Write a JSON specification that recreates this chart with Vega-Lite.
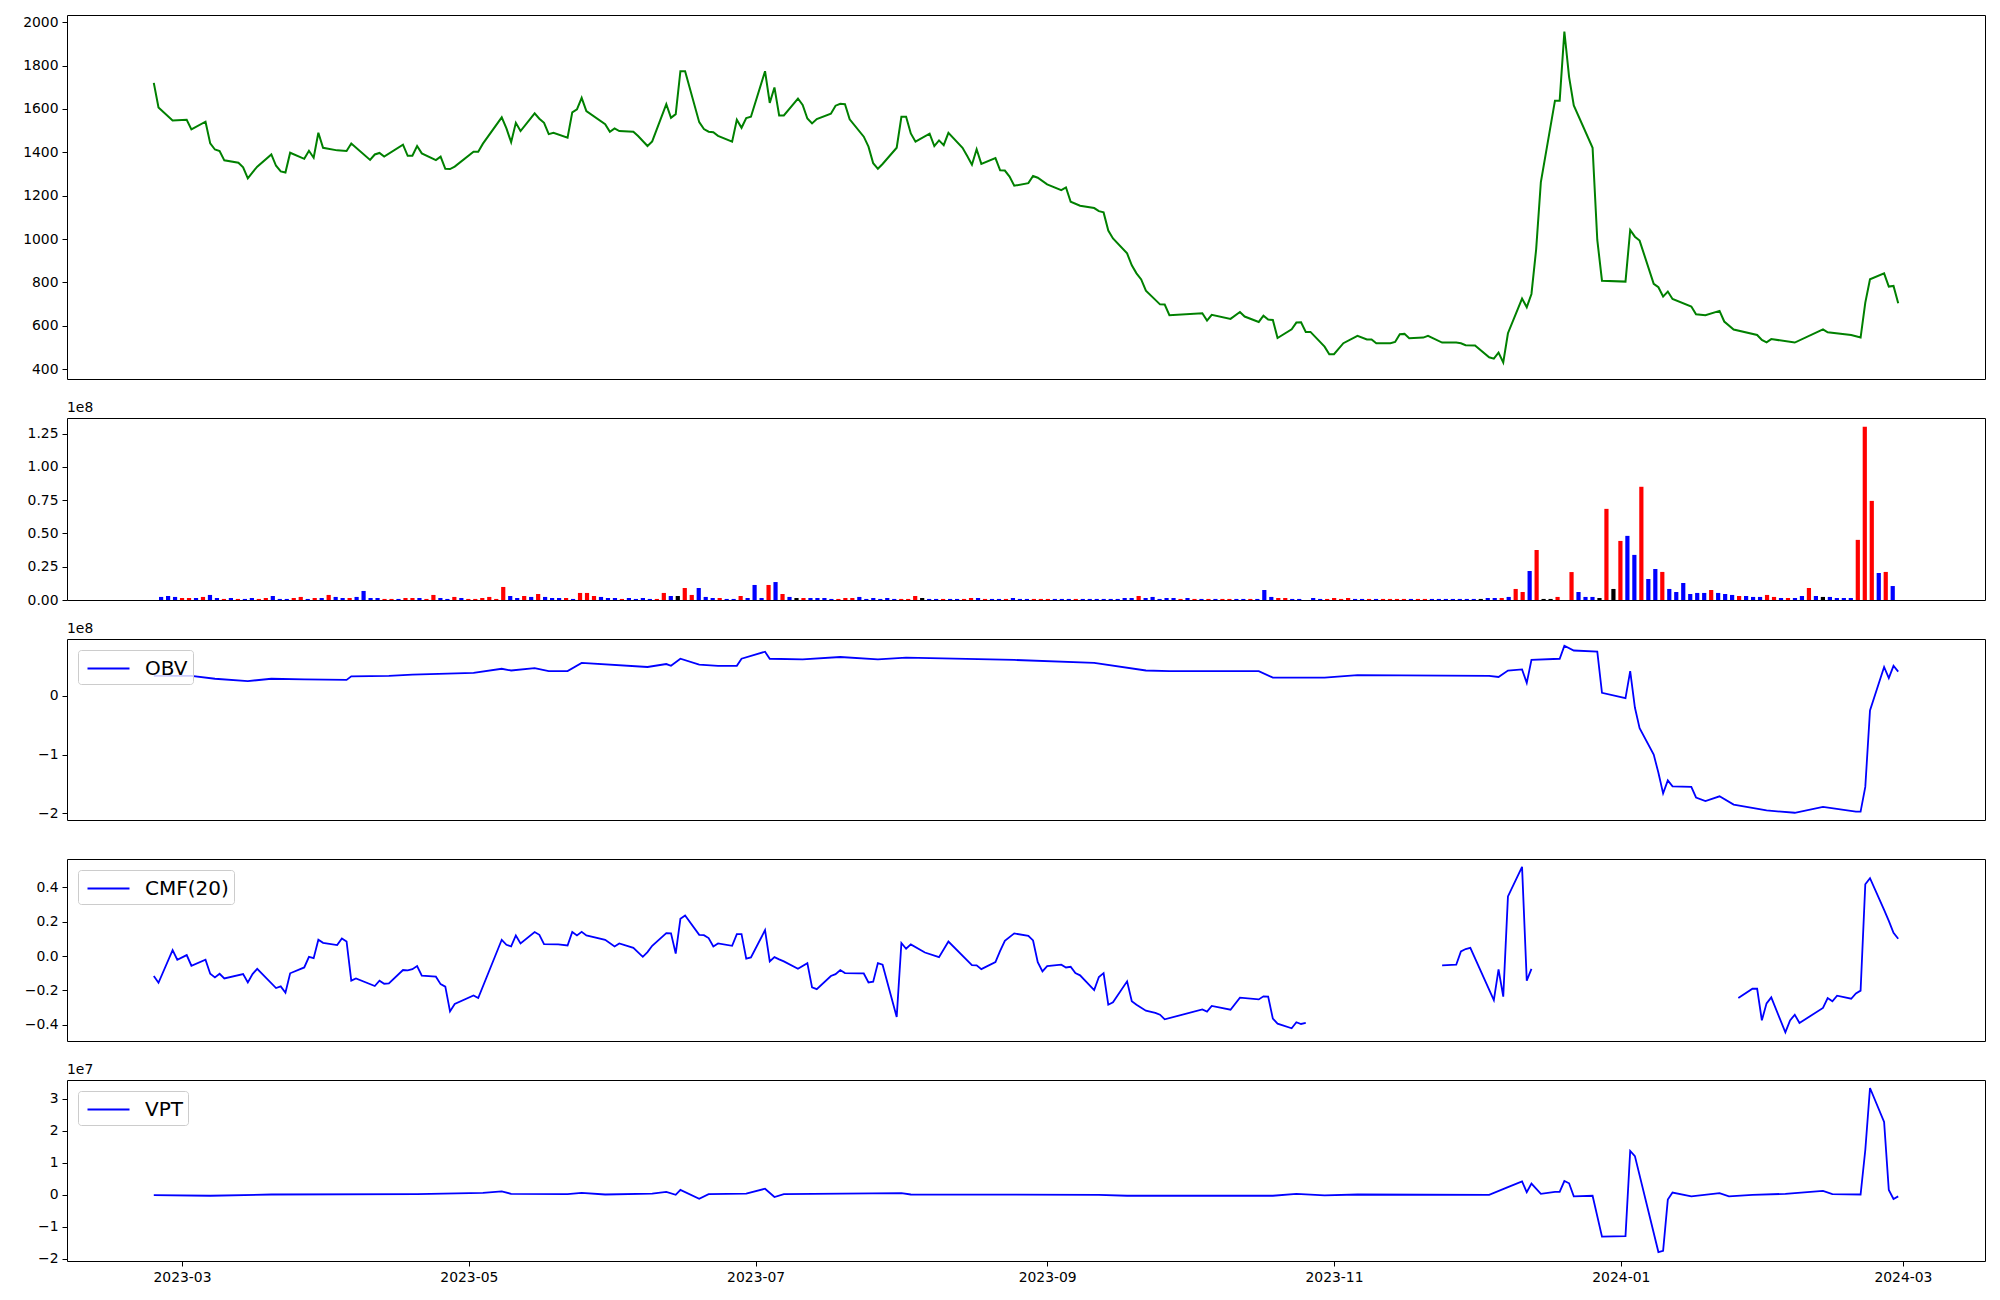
{
"$schema": "https://vega.github.io/schema/vega-lite/v6.json",
"autosize": {"type": "pad"},
"padding": {"left": 22, "top": 14, "right": 10, "bottom": 10},
"background": "white",
"bounds": "flush",
"spacing": 39,
"config": {
  "font": "DejaVu Sans",
  "view": {"stroke": "black", "strokeWidth": 1},
  "axis": {"domain": false, "grid": false, "tickColor": "black", "tickSize": 5, "tickWidth": 1, "labelColor": "black", "labelFont": "DejaVu Sans", "labelFontSize": 13.9, "labelPadding": 4, "title": null},
  "title": {"font": "DejaVu Sans", "fontSize": 13.9, "fontWeight": "normal", "color": "black", "anchor": "start", "frame": "group", "offset": 3}
},
"resolve": {"scale": {"x": "independent", "y": "independent", "color": "independent"}, "legend": {"color": "independent"}},
"datasets": {
"price": [
{"date":"2023-02-23","close":1720},{"date":"2023-02-24","close":1607},{"date":"2023-02-27","close":1547},{"date":"2023-03-02","close":1550},{"date":"2023-03-03","close":1506},{"date":"2023-03-06","close":1541},{"date":"2023-03-07","close":1441},{"date":"2023-03-08","close":1413},{"date":"2023-03-09","close":1406},{"date":"2023-03-10","close":1363},{"date":"2023-03-13","close":1352},{"date":"2023-03-14","close":1331},{"date":"2023-03-15","close":1280},{"date":"2023-03-16","close":1308},{"date":"2023-03-17","close":1334},{"date":"2023-03-20","close":1390},{"date":"2023-03-21","close":1338},{"date":"2023-03-22","close":1312},{"date":"2023-03-23","close":1307},{"date":"2023-03-24","close":1398},{"date":"2023-03-27","close":1370},{"date":"2023-03-28","close":1407},{"date":"2023-03-29","close":1375},{"date":"2023-03-30","close":1490},{"date":"2023-03-31","close":1421},{"date":"2023-04-03","close":1409},{"date":"2023-04-05","close":1406},{"date":"2023-04-06","close":1441},{"date":"2023-04-10","close":1365},{"date":"2023-04-11","close":1390},{"date":"2023-04-12","close":1397},{"date":"2023-04-13","close":1380},{"date":"2023-04-17","close":1435},{"date":"2023-04-18","close":1384},{"date":"2023-04-19","close":1384},{"date":"2023-04-20","close":1429},{"date":"2023-04-21","close":1395},{"date":"2023-04-24","close":1364},{"date":"2023-04-25","close":1380},{"date":"2023-04-26","close":1324},{"date":"2023-04-27","close":1323},{"date":"2023-04-28","close":1334},{"date":"2023-05-02","close":1403},{"date":"2023-05-03","close":1403},{"date":"2023-05-04","close":1440},{"date":"2023-05-08","close":1561},{"date":"2023-05-09","close":1510},{"date":"2023-05-10","close":1447},{"date":"2023-05-11","close":1536},{"date":"2023-05-12","close":1498},{"date":"2023-05-15","close":1580},{"date":"2023-05-16","close":1555},{"date":"2023-05-17","close":1536},{"date":"2023-05-18","close":1484},{"date":"2023-05-19","close":1490},{"date":"2023-05-22","close":1467},{"date":"2023-05-23","close":1584},{"date":"2023-05-24","close":1598},{"date":"2023-05-25","close":1651},{"date":"2023-05-26","close":1590},{"date":"2023-05-30","close":1530},{"date":"2023-05-31","close":1495},{"date":"2023-06-01","close":1510},{"date":"2023-06-02","close":1498},{"date":"2023-06-05","close":1495},{"date":"2023-06-06","close":1475},{"date":"2023-06-07","close":1452},{"date":"2023-06-08","close":1429},{"date":"2023-06-09","close":1450},{"date":"2023-06-12","close":1622},{"date":"2023-06-13","close":1559},{"date":"2023-06-14","close":1576},{"date":"2023-06-15","close":1774},{"date":"2023-06-16","close":1774},{"date":"2023-06-19","close":1539},{"date":"2023-06-20","close":1507},{"date":"2023-06-21","close":1495},{"date":"2023-06-22","close":1493},{"date":"2023-06-23","close":1476},{"date":"2023-06-26","close":1449},{"date":"2023-06-27","close":1550},{"date":"2023-06-28","close":1513},{"date":"2023-06-29","close":1558},{"date":"2023-06-30","close":1564},{"date":"2023-07-03","close":1774},{"date":"2023-07-04","close":1628},{"date":"2023-07-05","close":1699},{"date":"2023-07-06","close":1570},{"date":"2023-07-07","close":1570},{"date":"2023-07-10","close":1648},{"date":"2023-07-11","close":1618},{"date":"2023-07-12","close":1556},{"date":"2023-07-13","close":1533},{"date":"2023-07-14","close":1553},{"date":"2023-07-17","close":1578},{"date":"2023-07-18","close":1615},{"date":"2023-07-19","close":1624},{"date":"2023-07-20","close":1622},{"date":"2023-07-21","close":1552},{"date":"2023-07-24","close":1472},{"date":"2023-07-25","close":1426},{"date":"2023-07-26","close":1350},{"date":"2023-07-27","close":1324},{"date":"2023-07-28","close":1346},{"date":"2023-07-31","close":1421},{"date":"2023-08-01","close":1564},{"date":"2023-08-02","close":1564},{"date":"2023-08-03","close":1487},{"date":"2023-08-04","close":1449},{"date":"2023-08-07","close":1486},{"date":"2023-08-08","close":1429},{"date":"2023-08-09","close":1455},{"date":"2023-08-10","close":1433},{"date":"2023-08-11","close":1490},{"date":"2023-08-14","close":1421},{"date":"2023-08-15","close":1383},{"date":"2023-08-16","close":1343},{"date":"2023-08-17","close":1414},{"date":"2023-08-18","close":1347},{"date":"2023-08-21","close":1373},{"date":"2023-08-22","close":1317},{"date":"2023-08-23","close":1316},{"date":"2023-08-24","close":1288},{"date":"2023-08-25","close":1246},{"date":"2023-08-28","close":1258},{"date":"2023-08-29","close":1291},{"date":"2023-08-30","close":1283},{"date":"2023-09-01","close":1252},{"date":"2023-09-04","close":1226},{"date":"2023-09-05","close":1238},{"date":"2023-09-06","close":1172},{"date":"2023-09-08","close":1154},{"date":"2023-09-11","close":1143},{"date":"2023-09-12","close":1129},{"date":"2023-09-13","close":1123},{"date":"2023-09-14","close":1039},{"date":"2023-09-15","close":1003},{"date":"2023-09-18","close":934},{"date":"2023-09-19","close":879},{"date":"2023-09-20","close":842},{"date":"2023-09-21","close":814},{"date":"2023-09-22","close":762},{"date":"2023-09-25","close":699},{"date":"2023-09-26","close":698},{"date":"2023-09-27","close":649},{"date":"2023-10-04","close":658},{"date":"2023-10-05","close":624},{"date":"2023-10-06","close":651},{"date":"2023-10-10","close":632},{"date":"2023-10-12","close":664},{"date":"2023-10-13","close":643},{"date":"2023-10-16","close":618},{"date":"2023-10-17","close":647},{"date":"2023-10-18","close":629},{"date":"2023-10-19","close":627},{"date":"2023-10-20","close":544},{"date":"2023-10-23","close":584},{"date":"2023-10-24","close":615},{"date":"2023-10-25","close":616},{"date":"2023-10-26","close":572},{"date":"2023-10-27","close":572},{"date":"2023-10-30","close":504},{"date":"2023-10-31","close":469},{"date":"2023-11-01","close":469},{"date":"2023-11-03","close":520},{"date":"2023-11-06","close":554},{"date":"2023-11-08","close":537},{"date":"2023-11-09","close":537},{"date":"2023-11-10","close":520},{"date":"2023-11-13","close":520},{"date":"2023-11-14","close":526},{"date":"2023-11-15","close":561},{"date":"2023-11-16","close":563},{"date":"2023-11-17","close":543},{"date":"2023-11-20","close":546},{"date":"2023-11-21","close":554},{"date":"2023-11-24","close":523},{"date":"2023-11-27","close":523},{"date":"2023-11-28","close":520},{"date":"2023-11-29","close":511},{"date":"2023-12-01","close":509},{"date":"2023-12-04","close":455},{"date":"2023-12-05","close":449},{"date":"2023-12-06","close":477},{"date":"2023-12-07","close":431},{"date":"2023-12-08","close":566},{"date":"2023-12-11","close":726},{"date":"2023-12-12","close":686},{"date":"2023-12-13","close":747},{"date":"2023-12-14","close":953},{"date":"2023-12-15","close":1263},{"date":"2023-12-18","close":1638},{"date":"2023-12-19","close":1638},{"date":"2023-12-20","close":1957},{"date":"2023-12-21","close":1748},{"date":"2023-12-22","close":1616},{"date":"2023-12-26","close":1421},{"date":"2023-12-27","close":996},{"date":"2023-12-28","close":808},{"date":"2024-01-02","close":804},{"date":"2024-01-03","close":1042},{"date":"2024-01-04","close":1011},{"date":"2024-01-05","close":993},{"date":"2024-01-08","close":794},{"date":"2024-01-09","close":778},{"date":"2024-01-10","close":735},{"date":"2024-01-11","close":758},{"date":"2024-01-12","close":724},{"date":"2024-01-16","close":689},{"date":"2024-01-17","close":653},{"date":"2024-01-19","close":649},{"date":"2024-01-22","close":669},{"date":"2024-01-23","close":620},{"date":"2024-01-25","close":583},{"date":"2024-01-30","close":558},{"date":"2024-01-31","close":535},{"date":"2024-02-01","close":524},{"date":"2024-02-02","close":539},{"date":"2024-02-07","close":523},{"date":"2024-02-13","close":584},{"date":"2024-02-14","close":570},{"date":"2024-02-19","close":558},{"date":"2024-02-21","close":546},{"date":"2024-02-22","close":707},{"date":"2024-02-23","close":815},{"date":"2024-02-26","close":842},{"date":"2024-02-27","close":781},{"date":"2024-02-28","close":784},{"date":"2024-02-29","close":704}
],
"volume": [
{"i":0,"v":2.3e6,"c":"down"},{"i":1,"v":3.0e6,"c":"down"},{"i":2,"v":2.3e6,"c":"down"},{"i":3,"v":1.5e6,"c":"up"},{"i":4,"v":1.5e6,"c":"up"},{"i":5,"v":1.5e6,"c":"down"},{"i":6,"v":2.3e6,"c":"up"},{"i":7,"v":3.8e6,"c":"down"},{"i":8,"v":1.5e6,"c":"down"},{"i":9,"v":0.8e6,"c":"up"},
{"i":10,"v":1.5e6,"c":"down"},{"i":11,"v":0.8e6,"c":"up"},{"i":12,"v":0.8e6,"c":"down"},{"i":13,"v":1.5e6,"c":"down"},{"i":14,"v":0.8e6,"c":"up"},{"i":15,"v":1.5e6,"c":"up"},{"i":16,"v":3.0e6,"c":"down"},{"i":17,"v":0.8e6,"c":"down"},{"i":18,"v":0.8e6,"c":"down"},{"i":19,"v":1.5e6,"c":"up"},
{"i":20,"v":2.3e6,"c":"up"},{"i":21,"v":0.8e6,"c":"down"},{"i":22,"v":1.5e6,"c":"up"},{"i":23,"v":1.5e6,"c":"down"},{"i":24,"v":3.8e6,"c":"up"},{"i":25,"v":2.3e6,"c":"down"},{"i":26,"v":1.5e6,"c":"down"},{"i":27,"v":1.5e6,"c":"up"},{"i":28,"v":2.3e6,"c":"down"},{"i":29,"v":6.8e6,"c":"down"},
{"i":30,"v":1.5e6,"c":"down"},{"i":31,"v":1.5e6,"c":"down"},{"i":32,"v":0.8e6,"c":"up"},{"i":33,"v":0.8e6,"c":"up"},{"i":34,"v":0.8e6,"c":"down"},{"i":35,"v":1.5e6,"c":"up"},{"i":36,"v":1.5e6,"c":"up"},{"i":37,"v":1.5e6,"c":"down"},{"i":38,"v":0.8e6,"c":"up"},{"i":39,"v":3.8e6,"c":"up"},
{"i":40,"v":1.5e6,"c":"down"},{"i":41,"v":0.8e6,"c":"down"},{"i":42,"v":2.3e6,"c":"up"},{"i":43,"v":1.5e6,"c":"down"},{"i":44,"v":0.8e6,"c":"up"},{"i":45,"v":0.8e6,"c":"up"},{"i":46,"v":1.5e6,"c":"up"},{"i":47,"v":2.3e6,"c":"up"},{"i":48,"v":0.8e6,"c":"up"},{"i":49,"v":9.8e6,"c":"up"},
{"i":50,"v":3.0e6,"c":"down"},{"i":51,"v":1.5e6,"c":"down"},{"i":52,"v":3.0e6,"c":"up"},{"i":53,"v":2.3e6,"c":"down"},{"i":54,"v":4.5e6,"c":"up"},{"i":55,"v":2.3e6,"c":"down"},{"i":56,"v":1.5e6,"c":"down"},{"i":57,"v":1.5e6,"c":"down"},{"i":58,"v":1.5e6,"c":"up"},{"i":59,"v":0.8e6,"c":"down"},
{"i":60,"v":5.3e6,"c":"up"},{"i":61,"v":5.3e6,"c":"up"},{"i":62,"v":3.0e6,"c":"up"},{"i":63,"v":2.3e6,"c":"down"},{"i":64,"v":1.5e6,"c":"down"},{"i":65,"v":1.5e6,"c":"down"},{"i":66,"v":0.8e6,"c":"up"},{"i":67,"v":1.5e6,"c":"down"},{"i":68,"v":0.8e6,"c":"down"},{"i":69,"v":1.5e6,"c":"down"},
{"i":70,"v":0.8e6,"c":"down"},{"i":71,"v":0.8e6,"c":"up"},{"i":72,"v":5.3e6,"c":"up"},{"i":73,"v":3.0e6,"c":"down"},{"i":74,"v":3.0e6,"c":"flat"},{"i":75,"v":9.0e6,"c":"up"},{"i":76,"v":3.8e6,"c":"up"},{"i":77,"v":9.0e6,"c":"down"},{"i":78,"v":2.3e6,"c":"down"},{"i":79,"v":1.5e6,"c":"down"},
{"i":80,"v":1.5e6,"c":"up"},{"i":81,"v":0.8e6,"c":"down"},{"i":82,"v":0.8e6,"c":"down"},{"i":83,"v":3.0e6,"c":"up"},{"i":84,"v":1.5e6,"c":"down"},{"i":85,"v":11.3e6,"c":"down"},{"i":86,"v":1.5e6,"c":"down"},{"i":87,"v":11.3e6,"c":"up"},{"i":88,"v":13.5e6,"c":"down"},{"i":89,"v":4.5e6,"c":"up"},
{"i":90,"v":2.3e6,"c":"down"},{"i":91,"v":1.5e6,"c":"flat"},{"i":92,"v":1.5e6,"c":"up"},{"i":93,"v":1.5e6,"c":"down"},{"i":94,"v":1.5e6,"c":"down"},{"i":95,"v":1.5e6,"c":"down"},{"i":96,"v":0.8e6,"c":"down"},{"i":97,"v":0.8e6,"c":"up"},{"i":98,"v":1.5e6,"c":"up"},{"i":99,"v":1.5e6,"c":"up"},
{"i":100,"v":2.3e6,"c":"down"},{"i":101,"v":0.8e6,"c":"down"},{"i":102,"v":1.5e6,"c":"down"},{"i":103,"v":0.8e6,"c":"down"},{"i":104,"v":1.5e6,"c":"down"},{"i":105,"v":0.8e6,"c":"down"},{"i":106,"v":0.8e6,"c":"up"},{"i":107,"v":0.8e6,"c":"up"},{"i":108,"v":3.0e6,"c":"up"},{"i":109,"v":1.5e6,"c":"flat"},
{"i":110,"v":0.8e6,"c":"down"},{"i":111,"v":0.8e6,"c":"down"},{"i":112,"v":0.8e6,"c":"up"},{"i":113,"v":0.8e6,"c":"down"},{"i":114,"v":0.8e6,"c":"down"},{"i":115,"v":0.8e6,"c":"up"},{"i":116,"v":1.5e6,"c":"up"},{"i":117,"v":1.5e6,"c":"down"},{"i":118,"v":0.8e6,"c":"up"},{"i":119,"v":0.8e6,"c":"down"},
{"i":120,"v":0.8e6,"c":"down"},{"i":121,"v":0.8e6,"c":"up"},{"i":122,"v":1.5e6,"c":"down"},{"i":123,"v":0.8e6,"c":"down"},{"i":124,"v":0.8e6,"c":"down"},{"i":125,"v":0.8e6,"c":"up"},{"i":126,"v":0.8e6,"c":"up"},{"i":127,"v":0.8e6,"c":"up"},{"i":128,"v":0.8e6,"c":"down"},{"i":129,"v":0.8e6,"c":"down"},
{"i":130,"v":0.8e6,"c":"down"},{"i":131,"v":0.8e6,"c":"up"},{"i":132,"v":0.8e6,"c":"down"},{"i":133,"v":0.8e6,"c":"down"},{"i":134,"v":0.8e6,"c":"down"},{"i":135,"v":0.8e6,"c":"down"},{"i":136,"v":0.8e6,"c":"down"},{"i":137,"v":0.8e6,"c":"down"},{"i":138,"v":1.5e6,"c":"down"},{"i":139,"v":1.5e6,"c":"down"},
{"i":140,"v":3.0e6,"c":"up"},{"i":141,"v":1.5e6,"c":"down"},{"i":142,"v":2.3e6,"c":"down"},{"i":143,"v":0.8e6,"c":"down"},{"i":144,"v":1.5e6,"c":"down"},{"i":145,"v":1.5e6,"c":"down"},{"i":146,"v":0.8e6,"c":"up"},{"i":147,"v":1.5e6,"c":"down"},{"i":148,"v":0.8e6,"c":"up"},{"i":149,"v":0.8e6,"c":"down"},
{"i":150,"v":0.8e6,"c":"up"},{"i":151,"v":0.8e6,"c":"down"},{"i":152,"v":0.8e6,"c":"up"},{"i":153,"v":0.8e6,"c":"up"},{"i":154,"v":0.8e6,"c":"down"},{"i":155,"v":0.8e6,"c":"down"},{"i":156,"v":0.8e6,"c":"up"},{"i":157,"v":0.8e6,"c":"down"},{"i":158,"v":7.5e6,"c":"down"},{"i":159,"v":2.3e6,"c":"down"},
{"i":160,"v":1.5e6,"c":"up"},{"i":161,"v":1.5e6,"c":"up"},{"i":162,"v":0.8e6,"c":"down"},{"i":163,"v":0.8e6,"c":"down"},{"i":164,"v":0,"c":"flat"},{"i":165,"v":1.5e6,"c":"down"},{"i":166,"v":0.8e6,"c":"down"},{"i":167,"v":0.8e6,"c":"up"},{"i":168,"v":1.5e6,"c":"up"},{"i":169,"v":0.8e6,"c":"up"},
{"i":170,"v":1.5e6,"c":"up"},{"i":171,"v":0.8e6,"c":"down"},{"i":172,"v":0.8e6,"c":"down"},{"i":173,"v":0.8e6,"c":"up"},{"i":174,"v":0.8e6,"c":"down"},{"i":175,"v":0.8e6,"c":"up"},{"i":176,"v":0.8e6,"c":"up"},{"i":177,"v":0.8e6,"c":"up"},{"i":178,"v":0.8e6,"c":"up"},{"i":179,"v":0.8e6,"c":"down"},
{"i":180,"v":0.8e6,"c":"up"},{"i":181,"v":0.8e6,"c":"up"},{"i":182,"v":0.8e6,"c":"down"},{"i":183,"v":0.8e6,"c":"down"},{"i":184,"v":0.8e6,"c":"down"},{"i":185,"v":0.8e6,"c":"down"},{"i":186,"v":0.8e6,"c":"down"},{"i":187,"v":0.8e6,"c":"down"},{"i":188,"v":0.8e6,"c":"down"},{"i":189,"v":0.8e6,"c":"flat"},
{"i":190,"v":1.5e6,"c":"down"},{"i":191,"v":1.5e6,"c":"down"},{"i":192,"v":1.5e6,"c":"up"},{"i":193,"v":2.3e6,"c":"down"},{"i":194,"v":8.3e6,"c":"up"},{"i":195,"v":6.0e6,"c":"up"},{"i":196,"v":21.8e6,"c":"down"},{"i":197,"v":37.6e6,"c":"up"},{"i":198,"v":0.8e6,"c":"flat"},{"i":199,"v":0.8e6,"c":"flat"},
{"i":200,"v":2.3e6,"c":"up"},{"i":201,"v":0,"c":"flat"},{"i":202,"v":21.0e6,"c":"up"},{"i":203,"v":6.0e6,"c":"down"},{"i":204,"v":2.3e6,"c":"down"},{"i":205,"v":2.3e6,"c":"down"},{"i":206,"v":1.5e6,"c":"flat"},{"i":207,"v":68.5e6,"c":"up"},{"i":208,"v":8.3e6,"c":"flat"},{"i":209,"v":44.4e6,"c":"up"},
{"i":210,"v":48.2e6,"c":"down"},{"i":211,"v":33.9e6,"c":"down"},{"i":212,"v":85.1e6,"c":"up"},{"i":213,"v":15.8e6,"c":"down"},{"i":214,"v":23.3e6,"c":"down"},{"i":215,"v":21.1e6,"c":"up"},{"i":216,"v":8.3e6,"c":"down"},{"i":217,"v":6.0e6,"c":"down"},{"i":218,"v":12.8e6,"c":"down"},{"i":219,"v":4.5e6,"c":"down"},
{"i":220,"v":5.3e6,"c":"down"},{"i":221,"v":5.3e6,"c":"down"},{"i":222,"v":7.5e6,"c":"up"},{"i":223,"v":5.3e6,"c":"down"},{"i":224,"v":4.5e6,"c":"down"},{"i":225,"v":3.8e6,"c":"down"},{"i":226,"v":3.0e6,"c":"up"},{"i":227,"v":3.0e6,"c":"down"},{"i":228,"v":2.3e6,"c":"down"},{"i":229,"v":2.3e6,"c":"down"},
{"i":230,"v":3.8e6,"c":"up"},{"i":231,"v":2.3e6,"c":"up"},{"i":232,"v":1.5e6,"c":"down"},{"i":233,"v":1.5e6,"c":"up"},{"i":234,"v":1.5e6,"c":"down"},{"i":235,"v":3.0e6,"c":"down"},{"i":236,"v":9.0e6,"c":"up"},{"i":237,"v":3.0e6,"c":"down"},{"i":238,"v":2.3e6,"c":"flat"},{"i":239,"v":2.3e6,"c":"down"},
{"i":240,"v":1.5e6,"c":"down"},{"i":241,"v":1.5e6,"c":"down"},{"i":242,"v":1.5e6,"c":"down"},{"i":243,"v":45.2e6,"c":"up"},{"i":244,"v":130.3e6,"c":"up"},{"i":245,"v":74.5e6,"c":"up"},{"i":246,"v":20.3e6,"c":"down"},{"i":247,"v":21.1e6,"c":"up"},{"i":248,"v":10.5e6,"c":"down"}
],
"obv": [
{"date":"2023-02-23","obv":0.34e8},{"date":"2023-03-03","obv":0.34e8},{"date":"2023-03-08","obv":0.29e8},{"date":"2023-03-15","obv":0.25e8},{"date":"2023-03-20","obv":0.29e8},{"date":"2023-03-27","obv":0.28e8},{"date":"2023-04-05","obv":0.27e8},{"date":"2023-04-06","obv":0.33e8},{"date":"2023-04-14","obv":0.34e8},{"date":"2023-04-19","obv":0.36e8},{"date":"2023-05-02","obv":0.39e8},{"date":"2023-05-08","obv":0.46e8},{"date":"2023-05-10","obv":0.43e8},{"date":"2023-05-15","obv":0.47e8},{"date":"2023-05-18","obv":0.42e8},{"date":"2023-05-22","obv":0.42e8},{"date":"2023-05-25","obv":0.56e8},{"date":"2023-06-08","obv":0.49e8},{"date":"2023-06-12","obv":0.54e8},{"date":"2023-06-13","obv":0.51e8},{"date":"2023-06-15","obv":0.63e8},{"date":"2023-06-19","obv":0.53e8},{"date":"2023-06-23","obv":0.51e8},{"date":"2023-06-27","obv":0.51e8},{"date":"2023-06-28","obv":0.63e8},{"date":"2023-07-03","obv":0.75e8},{"date":"2023-07-04","obv":0.63e8},{"date":"2023-07-11","obv":0.62e8},{"date":"2023-07-19","obv":0.66e8},{"date":"2023-07-27","obv":0.62e8},{"date":"2023-08-02","obv":0.65e8},{"date":"2023-08-25","obv":0.61e8},{"date":"2023-09-11","obv":0.56e8},{"date":"2023-09-22","obv":0.43e8},{"date":"2023-09-27","obv":0.42e8},{"date":"2023-10-16","obv":0.42e8},{"date":"2023-10-19","obv":0.31e8},{"date":"2023-10-30","obv":0.31e8},{"date":"2023-11-06","obv":0.35e8},{"date":"2023-12-04","obv":0.34e8},{"date":"2023-12-06","obv":0.32e8},{"date":"2023-12-08","obv":0.43e8},{"date":"2023-12-11","obv":0.45e8},{"date":"2023-12-12","obv":0.22e8},{"date":"2023-12-13","obv":0.61e8},{"date":"2023-12-19","obv":0.63e8},{"date":"2023-12-20","obv":0.85e8},{"date":"2023-12-22","obv":0.77e8},{"date":"2023-12-27","obv":0.75e8},{"date":"2023-12-28","obv":0.05e8},{"date":"2024-01-02","obv":-0.04e8},{"date":"2024-01-03","obv":0.42e8},{"date":"2024-01-04","obv":-0.2e8},{"date":"2024-01-05","obv":-0.55e8},{"date":"2024-01-08","obv":-1.0e8},{"date":"2024-01-09","obv":-1.31e8},{"date":"2024-01-10","obv":-1.66e8},{"date":"2024-01-11","obv":-1.44e8},{"date":"2024-01-12","obv":-1.54e8},{"date":"2024-01-16","obv":-1.55e8},{"date":"2024-01-17","obv":-1.73e8},{"date":"2024-01-19","obv":-1.79e8},{"date":"2024-01-22","obv":-1.71e8},{"date":"2024-01-25","obv":-1.85e8},{"date":"2024-02-01","obv":-1.95e8},{"date":"2024-02-07","obv":-1.99e8},{"date":"2024-02-13","obv":-1.89e8},{"date":"2024-02-20","obv":-1.97e8},{"date":"2024-02-21","obv":-1.97e8},{"date":"2024-02-22","obv":-1.55e8},{"date":"2024-02-23","obv":-0.25e8},{"date":"2024-02-26","obv":0.49e8},{"date":"2024-02-27","obv":0.30e8},{"date":"2024-02-28","obv":0.51e8},{"date":"2024-02-29","obv":0.41e8}
],
"cmf": [
{"date":"2023-02-23","cmf":-0.116,"seg":1},{"date":"2023-02-24","cmf":-0.155,"seg":1},{"date":"2023-02-27","cmf":0.035,"seg":1},{"date":"2023-02-28","cmf":-0.021,"seg":1},{"date":"2023-03-02","cmf":0.006,"seg":1},{"date":"2023-03-03","cmf":-0.056,"seg":1},{"date":"2023-03-06","cmf":-0.021,"seg":1},{"date":"2023-03-07","cmf":-0.103,"seg":1},{"date":"2023-03-08","cmf":-0.124,"seg":1},{"date":"2023-03-09","cmf":-0.103,"seg":1},{"date":"2023-03-10","cmf":-0.13,"seg":1},{"date":"2023-03-14","cmf":-0.105,"seg":1},{"date":"2023-03-15","cmf":-0.153,"seg":1},{"date":"2023-03-16","cmf":-0.105,"seg":1},{"date":"2023-03-17","cmf":-0.074,"seg":1},{"date":"2023-03-21","cmf":-0.186,"seg":1},{"date":"2023-03-22","cmf":-0.176,"seg":1},{"date":"2023-03-23","cmf":-0.213,"seg":1},{"date":"2023-03-24","cmf":-0.1,"seg":1},{"date":"2023-03-27","cmf":-0.066,"seg":1},{"date":"2023-03-28","cmf":-0.004,"seg":1},{"date":"2023-03-29","cmf":-0.012,"seg":1},{"date":"2023-03-30","cmf":0.095,"seg":1},{"date":"2023-03-31","cmf":0.077,"seg":1},{"date":"2023-04-03","cmf":0.064,"seg":1},{"date":"2023-04-04","cmf":0.103,"seg":1},{"date":"2023-04-05","cmf":0.085,"seg":1},{"date":"2023-04-06","cmf":-0.143,"seg":1},{"date":"2023-04-07","cmf":-0.13,"seg":1},{"date":"2023-04-11","cmf":-0.174,"seg":1},{"date":"2023-04-12","cmf":-0.143,"seg":1},{"date":"2023-04-13","cmf":-0.161,"seg":1},{"date":"2023-04-14","cmf":-0.159,"seg":1},{"date":"2023-04-17","cmf":-0.081,"seg":1},{"date":"2023-04-18","cmf":-0.083,"seg":1},{"date":"2023-04-19","cmf":-0.076,"seg":1},{"date":"2023-04-20","cmf":-0.058,"seg":1},{"date":"2023-04-21","cmf":-0.114,"seg":1},{"date":"2023-04-24","cmf":-0.12,"seg":1},{"date":"2023-04-25","cmf":-0.163,"seg":1},{"date":"2023-04-26","cmf":-0.178,"seg":1},{"date":"2023-04-27","cmf":-0.322,"seg":1},{"date":"2023-04-28","cmf":-0.279,"seg":1},{"date":"2023-05-02","cmf":-0.229,"seg":1},{"date":"2023-05-03","cmf":-0.244,"seg":1},{"date":"2023-05-08","cmf":0.095,"seg":1},{"date":"2023-05-09","cmf":0.066,"seg":1},{"date":"2023-05-10","cmf":0.056,"seg":1},{"date":"2023-05-11","cmf":0.12,"seg":1},{"date":"2023-05-12","cmf":0.074,"seg":1},{"date":"2023-05-15","cmf":0.14,"seg":1},{"date":"2023-05-16","cmf":0.124,"seg":1},{"date":"2023-05-17","cmf":0.07,"seg":1},{"date":"2023-05-20","cmf":0.068,"seg":1},{"date":"2023-05-22","cmf":0.062,"seg":1},{"date":"2023-05-23","cmf":0.14,"seg":1},{"date":"2023-05-24","cmf":0.12,"seg":1},{"date":"2023-05-25","cmf":0.141,"seg":1},{"date":"2023-05-26","cmf":0.12,"seg":1},{"date":"2023-05-30","cmf":0.095,"seg":1},{"date":"2023-06-01","cmf":0.056,"seg":1},{"date":"2023-06-02","cmf":0.074,"seg":1},{"date":"2023-06-05","cmf":0.048,"seg":1},{"date":"2023-06-07","cmf":-0.004,"seg":1},{"date":"2023-06-08","cmf":0.023,"seg":1},{"date":"2023-06-09","cmf":0.06,"seg":1},{"date":"2023-06-12","cmf":0.134,"seg":1},{"date":"2023-06-13","cmf":0.132,"seg":1},{"date":"2023-06-14","cmf":0.015,"seg":1},{"date":"2023-06-15","cmf":0.217,"seg":1},{"date":"2023-06-16","cmf":0.236,"seg":1},{"date":"2023-06-19","cmf":0.124,"seg":1},{"date":"2023-06-20","cmf":0.122,"seg":1},{"date":"2023-06-21","cmf":0.105,"seg":1},{"date":"2023-06-22","cmf":0.056,"seg":1},{"date":"2023-06-23","cmf":0.074,"seg":1},{"date":"2023-06-26","cmf":0.06,"seg":1},{"date":"2023-06-27","cmf":0.128,"seg":1},{"date":"2023-06-28","cmf":0.128,"seg":1},{"date":"2023-06-29","cmf":-0.015,"seg":1},{"date":"2023-06-30","cmf":-0.008,"seg":1},{"date":"2023-07-03","cmf":0.151,"seg":1},{"date":"2023-07-04","cmf":-0.031,"seg":1},{"date":"2023-07-05","cmf":-0.006,"seg":1},{"date":"2023-07-06","cmf":-0.019,"seg":1},{"date":"2023-07-07","cmf":-0.031,"seg":1},{"date":"2023-07-10","cmf":-0.074,"seg":1},{"date":"2023-07-12","cmf":-0.041,"seg":1},{"date":"2023-07-13","cmf":-0.182,"seg":1},{"date":"2023-07-14","cmf":-0.192,"seg":1},{"date":"2023-07-17","cmf":-0.116,"seg":1},{"date":"2023-07-18","cmf":-0.105,"seg":1},{"date":"2023-07-19","cmf":-0.081,"seg":1},{"date":"2023-07-20","cmf":-0.099,"seg":1},{"date":"2023-07-23","cmf":-0.101,"seg":1},{"date":"2023-07-24","cmf":-0.101,"seg":1},{"date":"2023-07-25","cmf":-0.153,"seg":1},{"date":"2023-07-26","cmf":-0.149,"seg":1},{"date":"2023-07-27","cmf":-0.041,"seg":1},{"date":"2023-07-28","cmf":-0.05,"seg":1},{"date":"2023-07-31","cmf":-0.354,"seg":1},{"date":"2023-08-01","cmf":0.076,"seg":1},{"date":"2023-08-02","cmf":0.043,"seg":1},{"date":"2023-08-03","cmf":0.068,"seg":1},{"date":"2023-08-06","cmf":0.021,"seg":1},{"date":"2023-08-09","cmf":-0.006,"seg":1},{"date":"2023-08-11","cmf":0.085,"seg":1},{"date":"2023-08-16","cmf":-0.052,"seg":1},{"date":"2023-08-17","cmf":-0.054,"seg":1},{"date":"2023-08-18","cmf":-0.076,"seg":1},{"date":"2023-08-21","cmf":-0.035,"seg":1},{"date":"2023-08-22","cmf":0.03,"seg":1},{"date":"2023-08-23","cmf":0.089,"seg":1},{"date":"2023-08-25","cmf":0.132,"seg":1},{"date":"2023-08-28","cmf":0.118,"seg":1},{"date":"2023-08-29","cmf":0.091,"seg":1},{"date":"2023-08-30","cmf":-0.035,"seg":1},{"date":"2023-08-31","cmf":-0.089,"seg":1},{"date":"2023-09-01","cmf":-0.058,"seg":1},{"date":"2023-09-04","cmf":-0.05,"seg":1},{"date":"2023-09-05","cmf":-0.066,"seg":1},{"date":"2023-09-06","cmf":-0.062,"seg":1},{"date":"2023-09-07","cmf":-0.099,"seg":1},{"date":"2023-09-08","cmf":-0.112,"seg":1},{"date":"2023-09-11","cmf":-0.198,"seg":1},{"date":"2023-09-12","cmf":-0.122,"seg":1},{"date":"2023-09-13","cmf":-0.099,"seg":1},{"date":"2023-09-14","cmf":-0.283,"seg":1},{"date":"2023-09-15","cmf":-0.269,"seg":1},{"date":"2023-09-18","cmf":-0.147,"seg":1},{"date":"2023-09-19","cmf":-0.263,"seg":1},{"date":"2023-09-20","cmf":-0.283,"seg":1},{"date":"2023-09-22","cmf":-0.318,"seg":1},{"date":"2023-09-24","cmf":-0.33,"seg":1},{"date":"2023-09-25","cmf":-0.341,"seg":1},{"date":"2023-09-26","cmf":-0.368,"seg":1},{"date":"2023-10-04","cmf":-0.31,"seg":1},{"date":"2023-10-05","cmf":-0.323,"seg":1},{"date":"2023-10-06","cmf":-0.29,"seg":1},{"date":"2023-10-10","cmf":-0.312,"seg":1},{"date":"2023-10-12","cmf":-0.242,"seg":1},{"date":"2023-10-16","cmf":-0.252,"seg":1},{"date":"2023-10-17","cmf":-0.234,"seg":1},{"date":"2023-10-18","cmf":-0.236,"seg":1},{"date":"2023-10-19","cmf":-0.364,"seg":1},{"date":"2023-10-20","cmf":-0.393,"seg":1},{"date":"2023-10-23","cmf":-0.42,"seg":1},{"date":"2023-10-24","cmf":-0.385,"seg":1},{"date":"2023-10-25","cmf":-0.395,"seg":1},{"date":"2023-10-26","cmf":-0.389,"seg":1},
{"date":"2023-11-24","cmf":-0.054,"seg":2},{"date":"2023-11-27","cmf":-0.05,"seg":2},{"date":"2023-11-28","cmf":0.027,"seg":2},{"date":"2023-11-29","cmf":0.041,"seg":2},{"date":"2023-11-30","cmf":0.048,"seg":2},{"date":"2023-12-05","cmf":-0.256,"seg":2},{"date":"2023-12-06","cmf":-0.077,"seg":2},{"date":"2023-12-07","cmf":-0.236,"seg":2},{"date":"2023-12-08","cmf":0.347,"seg":2},{"date":"2023-12-11","cmf":0.519,"seg":2},{"date":"2023-12-12","cmf":-0.143,"seg":2},{"date":"2023-12-13","cmf":-0.074,"seg":2},
{"date":"2024-01-26","cmf":-0.244,"seg":3},{"date":"2024-01-29","cmf":-0.19,"seg":3},{"date":"2024-01-30","cmf":-0.19,"seg":3},{"date":"2024-01-31","cmf":-0.374,"seg":3},{"date":"2024-02-01","cmf":-0.275,"seg":3},{"date":"2024-02-02","cmf":-0.24,"seg":3},{"date":"2024-02-05","cmf":-0.444,"seg":3},{"date":"2024-02-06","cmf":-0.374,"seg":3},{"date":"2024-02-07","cmf":-0.341,"seg":3},{"date":"2024-02-08","cmf":-0.389,"seg":3},{"date":"2024-02-13","cmf":-0.302,"seg":3},{"date":"2024-02-14","cmf":-0.244,"seg":3},{"date":"2024-02-15","cmf":-0.263,"seg":3},{"date":"2024-02-16","cmf":-0.23,"seg":3},{"date":"2024-02-19","cmf":-0.248,"seg":3},{"date":"2024-02-20","cmf":-0.217,"seg":3},{"date":"2024-02-21","cmf":-0.201,"seg":3},{"date":"2024-02-22","cmf":0.418,"seg":3},{"date":"2024-02-23","cmf":0.453,"seg":3},{"date":"2024-02-26","cmf":0.269,"seg":3},{"date":"2024-02-27","cmf":0.205,"seg":3},{"date":"2024-02-28","cmf":0.136,"seg":3},{"date":"2024-02-29","cmf":0.101,"seg":3}
],
"vpt": [
{"date":"2023-02-23","vpt":-0.01e7},{"date":"2023-03-07","vpt":-0.03e7},{"date":"2023-03-20","vpt":0.01e7},{"date":"2023-04-20","vpt":0.02e7},{"date":"2023-05-04","vpt":0.06e7},{"date":"2023-05-08","vpt":0.11e7},{"date":"2023-05-10","vpt":0.03e7},{"date":"2023-05-22","vpt":0.02e7},{"date":"2023-05-25","vpt":0.06e7},{"date":"2023-05-30","vpt":0.01e7},{"date":"2023-06-09","vpt":0.04e7},{"date":"2023-06-12","vpt":0.09e7},{"date":"2023-06-14","vpt":0.0},{"date":"2023-06-15","vpt":0.155e7},{"date":"2023-06-19","vpt":-0.124e7},{"date":"2023-06-21","vpt":0.02e7},{"date":"2023-06-29","vpt":0.04e7},{"date":"2023-07-03","vpt":0.19e7},{"date":"2023-07-05","vpt":-0.07e7},{"date":"2023-07-07","vpt":0.02e7},{"date":"2023-08-01","vpt":0.05e7},{"date":"2023-08-03","vpt":0.01e7},{"date":"2023-09-12","vpt":0.0},{"date":"2023-09-18","vpt":-0.03e7},{"date":"2023-10-19","vpt":-0.03e7},{"date":"2023-10-24","vpt":0.03e7},{"date":"2023-10-30","vpt":-0.02e7},{"date":"2023-11-06","vpt":0.01e7},{"date":"2023-12-04","vpt":0.0},{"date":"2023-12-08","vpt":0.24e7},{"date":"2023-12-11","vpt":0.42e7},{"date":"2023-12-12","vpt":0.08e7},{"date":"2023-12-13","vpt":0.35e7},{"date":"2023-12-15","vpt":0.03e7},{"date":"2023-12-18","vpt":0.09e7},{"date":"2023-12-19","vpt":0.09e7},{"date":"2023-12-20","vpt":0.43e7},{"date":"2023-12-21","vpt":0.36e7},{"date":"2023-12-22","vpt":-0.05e7},{"date":"2023-12-26","vpt":-0.03e7},{"date":"2023-12-28","vpt":-1.31e7},{"date":"2024-01-02","vpt":-1.29e7},{"date":"2024-01-03","vpt":1.37e7},{"date":"2024-01-04","vpt":1.21e7},{"date":"2024-01-09","vpt":-1.79e7},{"date":"2024-01-10","vpt":-1.75e7},{"date":"2024-01-11","vpt":-0.15e7},{"date":"2024-01-12","vpt":0.07e7},{"date":"2024-01-16","vpt":-0.05e7},{"date":"2024-01-22","vpt":0.05e7},{"date":"2024-01-24","vpt":-0.05e7},{"date":"2024-01-29","vpt":0.0},{"date":"2024-02-05","vpt":0.03e7},{"date":"2024-02-13","vpt":0.12e7},{"date":"2024-02-15","vpt":0.02e7},{"date":"2024-02-21","vpt":0.01e7},{"date":"2024-02-22","vpt":1.4e7},{"date":"2024-02-23","vpt":3.34e7},{"date":"2024-02-26","vpt":2.28e7},{"date":"2024-02-27","vpt":0.15e7},{"date":"2024-02-28","vpt":-0.13e7},{"date":"2024-02-29","vpt":-0.05e7}
]
},
"vconcat": [
{
 "width": 1918, "height": 364,
 "data": {"name": "price"},
 "mark": {"type": "line", "color": "green", "strokeWidth": 2},
 "encoding": {
  "x": {"field": "date", "type": "temporal", "scale": {"type": "utc", "domain": [{"year": 2023, "month": 2, "date": 4, "hours": 13, "utc": true}, {"year": 2024, "month": 3, "date": 18, "hours": 11, "utc": true}]}, "axis": null},
  "y": {"field": "close", "type": "quantitative", "scale": {"domain": [355, 2033], "nice": false, "zero": false}, "axis": {"values": [400, 600, 800, 1000, 1200, 1400, 1600, 1800, 2000], "format": "d"}}
 }
},
{
 "width": 1918, "height": 182,
 "title": {"text": "1e8"},
 "data": {"name": "volume"},
 "mark": {"type": "bar", "size": 4.2},
 "encoding": {
  "x": {"field": "i", "type": "quantitative", "scale": {"domain": [-12.76, 260.5], "nice": false, "zero": false}, "axis": null},
  "y": {"field": "v", "type": "quantitative", "scale": {"domain": [0, 136800000], "nice": false}, "axis": {"values": [0, 25000000, 50000000, 75000000, 100000000, 125000000], "labelExpr": "format(datum.value/1e8, '.2f')"}},
  "color": {"field": "c", "type": "nominal", "scale": {"domain": ["up", "down", "flat"], "range": ["red", "blue", "black"]}, "legend": null}
 }
},
{
 "width": 1918, "height": 181,
 "title": {"text": "1e8"},
 "data": {"name": "obv"},
 "mark": {"type": "line", "strokeWidth": 1.8},
 "encoding": {
  "x": {"field": "date", "type": "temporal", "scale": {"type": "utc", "domain": [{"year": 2023, "month": 2, "date": 4, "hours": 13, "utc": true}, {"year": 2024, "month": 3, "date": 18, "hours": 11, "utc": true}]}, "axis": null},
  "y": {"field": "obv", "type": "quantitative", "scale": {"domain": [-211300000, 96600000], "nice": false, "zero": false}, "axis": {"values": [-200000000, -100000000, 0], "labelExpr": "format(datum.value/1e8, 'd')"}},
  "color": {"datum": "OBV", "type": "nominal", "scale": {"range": ["blue"]}, "legend": {"title": null, "orient": "top-left", "offset": 11, "fillColor": "rgba(255,255,255,0.8)", "strokeColor": "#cccccc", "cornerRadius": 3, "padding": 5, "symbolType": "M-1.68,0H1.68", "symbolSize": 625, "symbolStrokeWidth": 2, "symbolOffset": 12, "labelOffset": 23, "labelFontSize": 20, "labelFont": "DejaVu Sans", "labelColor": "black"}}
 }
},
{
 "width": 1918, "height": 182,
 "data": {"name": "cmf"},
 "mark": {"type": "line", "strokeWidth": 1.8},
 "encoding": {
  "x": {"field": "date", "type": "temporal", "scale": {"type": "utc", "domain": [{"year": 2023, "month": 2, "date": 4, "hours": 13, "utc": true}, {"year": 2024, "month": 3, "date": 18, "hours": 11, "utc": true}]}, "axis": null},
  "y": {"field": "cmf", "type": "quantitative", "scale": {"domain": [-0.494, 0.565], "nice": false, "zero": false}, "axis": {"values": [-0.4, -0.2, 0, 0.2, 0.4], "format": ".1f"}},
  "detail": {"field": "seg", "type": "nominal"},
  "color": {"datum": "CMF(20)", "type": "nominal", "scale": {"range": ["blue"]}, "legend": {"title": null, "orient": "top-left", "offset": 11, "fillColor": "rgba(255,255,255,0.8)", "strokeColor": "#cccccc", "cornerRadius": 3, "padding": 5, "symbolType": "M-1.68,0H1.68", "symbolSize": 625, "symbolStrokeWidth": 2, "symbolOffset": 12, "labelOffset": 23, "labelFontSize": 20, "labelFont": "DejaVu Sans", "labelColor": "black"}}
 }
},
{
 "width": 1918, "height": 181,
 "title": {"text": "1e7"},
 "data": {"name": "vpt"},
 "mark": {"type": "line", "strokeWidth": 1.8},
 "encoding": {
  "x": {"field": "date", "type": "temporal", "scale": {"type": "utc", "domain": [{"year": 2023, "month": 2, "date": 4, "hours": 13, "utc": true}, {"year": 2024, "month": 3, "date": 18, "hours": 11, "utc": true}]}, "axis": {"values": [{"year": 2023, "month": 3, "date": 1, "utc": true}, {"year": 2023, "month": 5, "date": 1, "utc": true}, {"year": 2023, "month": 7, "date": 1, "utc": true}, {"year": 2023, "month": 9, "date": 1, "utc": true}, {"year": 2023, "month": 11, "date": 1, "utc": true}, {"year": 2024, "month": 1, "date": 1, "utc": true}, {"year": 2024, "month": 3, "date": 1, "utc": true}], "labelExpr": "utcFormat(datum.value, '%Y-%m')", "labelAngle": 0}},
  "y": {"field": "vpt", "type": "quantitative", "scale": {"domain": [-20700000, 35900000], "nice": false, "zero": false}, "axis": {"values": [-20000000, -10000000, 0, 10000000, 20000000, 30000000], "labelExpr": "format(datum.value/1e7, 'd')"}},
  "color": {"datum": "VPT", "type": "nominal", "scale": {"range": ["blue"]}, "legend": {"title": null, "orient": "top-left", "offset": 11, "fillColor": "rgba(255,255,255,0.8)", "strokeColor": "#cccccc", "cornerRadius": 3, "padding": 5, "symbolType": "M-1.68,0H1.68", "symbolSize": 625, "symbolStrokeWidth": 2, "symbolOffset": 12, "labelOffset": 23, "labelFontSize": 20, "labelFont": "DejaVu Sans", "labelColor": "black"}}
 }
}
]
}
